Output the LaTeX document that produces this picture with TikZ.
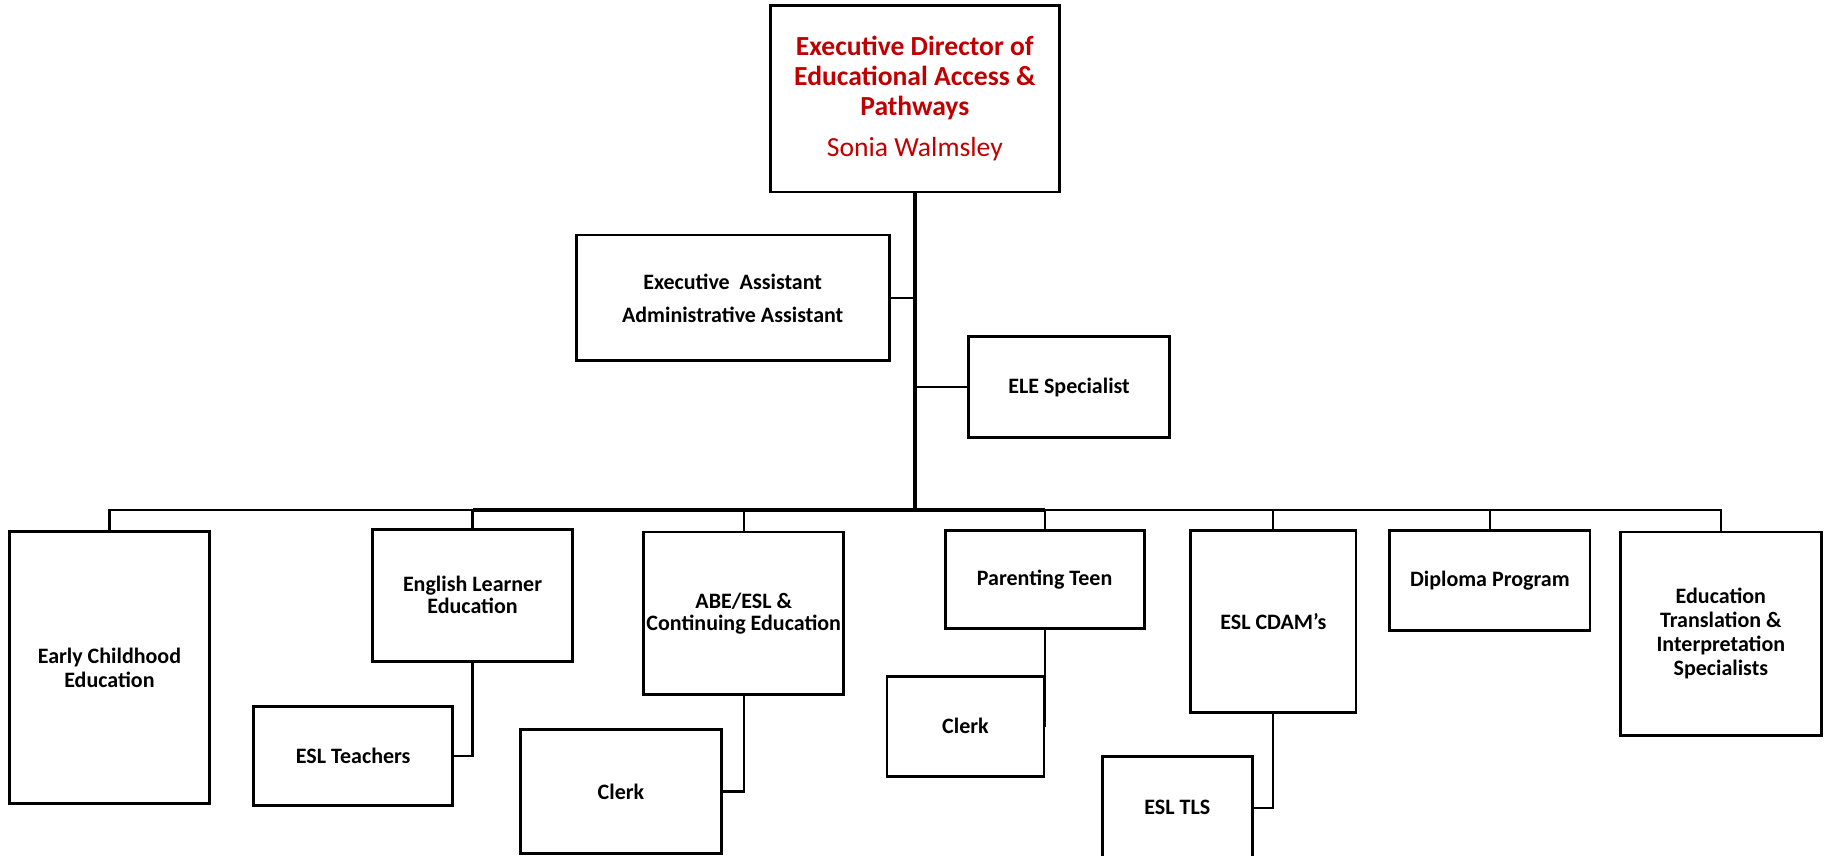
\documentclass[tikz,border=0pt]{standalone}
\usepackage{fontspec}
\setmainfont{Carlito}
\definecolor{dirred}{HTML}{C00000}

\begin{document}
\begin{tikzpicture}[every node/.style={draw,rectangle,line width=1.4pt,align=center,inner sep=1pt,font=\bfseries\fontsize{11}{12}\selectfont},conn/.style={line width=1.1pt},trunk/.style={line width=1.7pt}]
	\useasboundingbox (0,0) rectangle (32.07,15.033);
	\node[minimum width=5.072cm,minimum height=3.272cm,text=dirred,font=\bfseries\fontsize{13.8}{15}\selectfont] (director) at (16.076,13.294) {Executive Director of\\Educational Access \&\\Pathways\\[5.5pt]{\mdseries Sonia Walmsley}};
	\node[minimum width=5.502cm,minimum height=2.209cm] (assistant) at (12.875,9.797) {Executive\ \ Assistant\\[4.5pt]Administrative Assistant};
	\node[minimum width=3.538cm,minimum height=1.779cm] (ele) at (18.786,8.232) {ELE Specialist};
	\coordinate (bus) at (16.076,6.07);
	
	\node[minimum width=3.518cm,minimum height=4.766cm] (early) at (1.923,3.303) {Early Childhood\\Education};
	\node[minimum width=3.518cm,minimum height=2.311cm] (english) at (8.304,4.571) {English Learner\\[-1pt]Education};
	\node[minimum width=3.497cm,minimum height=1.738cm] (eslteach) at (6.207,1.749) {ESL Teachers};
	\node[minimum width=3.518cm,minimum height=2.863cm] (abe) at (13.069,4.254) {ABE/ESL \&\\[-1pt]Continuing Education};
	\node[minimum width=3.538cm,minimum height=2.168cm] (abeclerk) at (10.912,1.125) {Clerk};
	\node[minimum width=3.497cm,minimum height=1.718cm] (teen) at (18.357,4.847) {Parenting Teen};
	\node[minimum width=2.761cm,minimum height=1.759cm] (teenclerk) at (16.966,2.270) {Clerk};
	\node[minimum width=2.904cm,minimum height=3.191cm] (cdam) at (22.376,4.111) {ESL CDAM’s};
	\node[minimum width=2.638cm,minimum height=1.800cm] (tls) at (20.688,0.839) {ESL TLS};
	\node[minimum width=3.518cm,minimum height=1.759cm] (diploma) at (26.180,4.827) {Diploma Program};
	\node[minimum width=3.538cm,minimum height=3.579cm] (translation) at (30.240,3.896) {Education\\Translation \&\\Interpretation\\Specialists};
	
	\draw[trunk] (director.south) -- (bus);
	\draw[conn] (assistant.east) -- (assistant.east -| director.south);
	\draw[conn] (ele.west) -- (ele.west -| director.south);
	\draw[conn] (early.north) |- (bus);
	\draw[conn] (english.north) |- (bus);
	\draw[conn] (abe.north) |- (bus);
	\draw[conn] (teen.north) |- (bus);
	\draw[conn] (cdam.north) |- (bus);
	\draw[conn] (diploma.north) |- (bus);
	\draw[conn] (translation.north) |- (bus);
	\draw[trunk,yshift=1pt] (english.north |- bus) -- (teen.north |- bus);
	\draw[conn] (english.south) |- (eslteach.east);
	\draw[conn] (abe.south) |- (abeclerk.east);
	\draw[conn] (teen.south) |- (teenclerk.east);
	\draw[conn] (cdam.south) |- (tls.east);
\end{tikzpicture}
\end{document}
